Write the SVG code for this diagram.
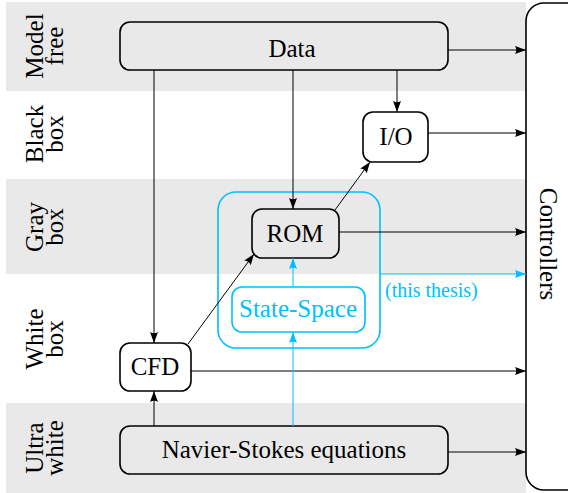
<svg xmlns="http://www.w3.org/2000/svg" width="568" height="493" viewBox="0 0 568 493" font-family="'Liberation Serif', 'DejaVu Serif', serif">
<style>
  text { font-family: 'Liberation Serif', 'DejaVu Serif', serif; font-size: 25px; fill: #000; }
  .band { fill: #e9e9e9; }
  .box { fill: none; stroke: #000; stroke-width: 1.6; }
  .cbox { fill: none; stroke: #00bfff; stroke-width: 1.6; }
  .c { fill: none; stroke: #000; stroke-width: 1; }
  .cc { fill: none; stroke: #00bfff; stroke-width: 1; }
  .mid { text-anchor: middle; }
  .cyan { fill: #00bfff; }
  .small { font-size: 20px; }
</style>
<defs>
  <marker id="ah" markerUnits="userSpaceOnUse" markerWidth="12" markerHeight="10" refX="11" refY="4" orient="auto">
    <path d="M0,0 L11,4 L0,8 Q2.5,4 0,0 Z" fill="#000"/>
  </marker>
  <marker id="ahc" markerUnits="userSpaceOnUse" markerWidth="12" markerHeight="10" refX="11" refY="4" orient="auto">
    <path d="M0,0 L11,4 L0,8 Q2.5,4 0,0 Z" fill="#00bfff"/>
  </marker>
</defs>

<g id="bands">
  <rect class="band" x="6" y="2" width="520" height="89"/>
  <rect class="band" x="6" y="179" width="520" height="95"/>
  <rect class="band" x="6" y="403" width="520" height="90"/>
</g>

<g id="labels">
  <text class="mid" x="43" y="46" transform="rotate(-90 43 46)">Model</text>
  <text class="mid" x="63" y="46" transform="rotate(-90 63 46)">free</text>
  <text class="mid" x="43" y="134" transform="rotate(-90 43 134)">Black</text>
  <text class="mid" x="63" y="134" transform="rotate(-90 63 134)">box</text>
  <text class="mid" x="43" y="227" transform="rotate(-90 43 227)">Gray</text>
  <text class="mid" x="63" y="227" transform="rotate(-90 63 227)">box</text>
  <text class="mid" x="43" y="339" transform="rotate(-90 43 339)">White</text>
  <text class="mid" x="63" y="339" transform="rotate(-90 63 339)">box</text>
  <text class="mid" x="43" y="448" transform="rotate(-90 43 448)">Ultra</text>
  <text class="mid" x="63" y="448" transform="rotate(-90 63 448)">white</text>
</g>

<g id="controllers">
  <rect class="box" x="526" y="3" width="80" height="487" rx="18"/>
  <text class="mid" x="540" y="244" transform="rotate(90 540 244)">Controllers</text>
</g>

<g id="thesis">
  <rect class="cbox" x="218" y="192" width="162" height="156" rx="18"/>
</g>

<g id="data">
  <rect class="box" x="120" y="22" width="328" height="48" rx="10"/>
  <text class="mid" x="292" y="57">Data</text>
</g>

<g id="io">
  <rect class="box" x="363" y="112" width="65" height="50" rx="10"/>
  <text class="mid" x="396" y="145">I/O</text>
</g>

<g id="rom">
  <rect class="box" x="252" y="209" width="87" height="49" rx="10"/>
  <text class="mid" x="295" y="242">ROM</text>
</g>

<g id="statespace">
  <rect class="cbox" x="232" y="287" width="133" height="45" rx="10"/>
  <text class="mid cyan" x="298" y="317">State-Space</text>
</g>

<g id="cfd">
  <rect class="box" x="120" y="343" width="71" height="48" rx="10"/>
  <text class="mid" x="155" y="375">CFD</text>
</g>

<g id="ns">
  <rect class="box" x="120" y="426" width="328" height="48" rx="10"/>
  <text class="mid" x="284" y="458">Navier-Stokes equations</text>
</g>

<g id="connectors">
  <line class="c" x1="448" y1="50" x2="526" y2="50" marker-end="url(#ah)"/>
  <line class="c" x1="154" y1="70" x2="154" y2="343" marker-end="url(#ah)"/>
  <line class="c" x1="293" y1="70" x2="293" y2="209" marker-end="url(#ah)"/>
  <line class="c" x1="397" y1="70" x2="397" y2="112" marker-end="url(#ah)"/>
  <line class="c" x1="428" y1="133" x2="526" y2="133" marker-end="url(#ah)"/>
  <line class="c" x1="339" y1="232" x2="526" y2="232" marker-end="url(#ah)"/>
  <line class="c" x1="335" y1="210" x2="370" y2="162" marker-end="url(#ah)"/>
  <line class="c" x1="188" y1="344" x2="254" y2="254" marker-end="url(#ah)"/>
  <line class="c" x1="191" y1="371" x2="526" y2="371" marker-end="url(#ah)"/>
  <line class="c" x1="448" y1="452" x2="526" y2="452" marker-end="url(#ah)"/>
  <line class="c" x1="154" y1="426" x2="154" y2="391" marker-end="url(#ah)"/>
  <line class="cc" x1="293" y1="426" x2="293" y2="332" marker-end="url(#ahc)"/>
  <line class="cc" x1="293" y1="287" x2="293" y2="258" marker-end="url(#ahc)"/>
  <line class="cc" x1="380" y1="274" x2="526" y2="274" marker-end="url(#ahc)"/>
  <text class="cyan small" x="385" y="297">(this thesis)</text>
</g>
</svg>
